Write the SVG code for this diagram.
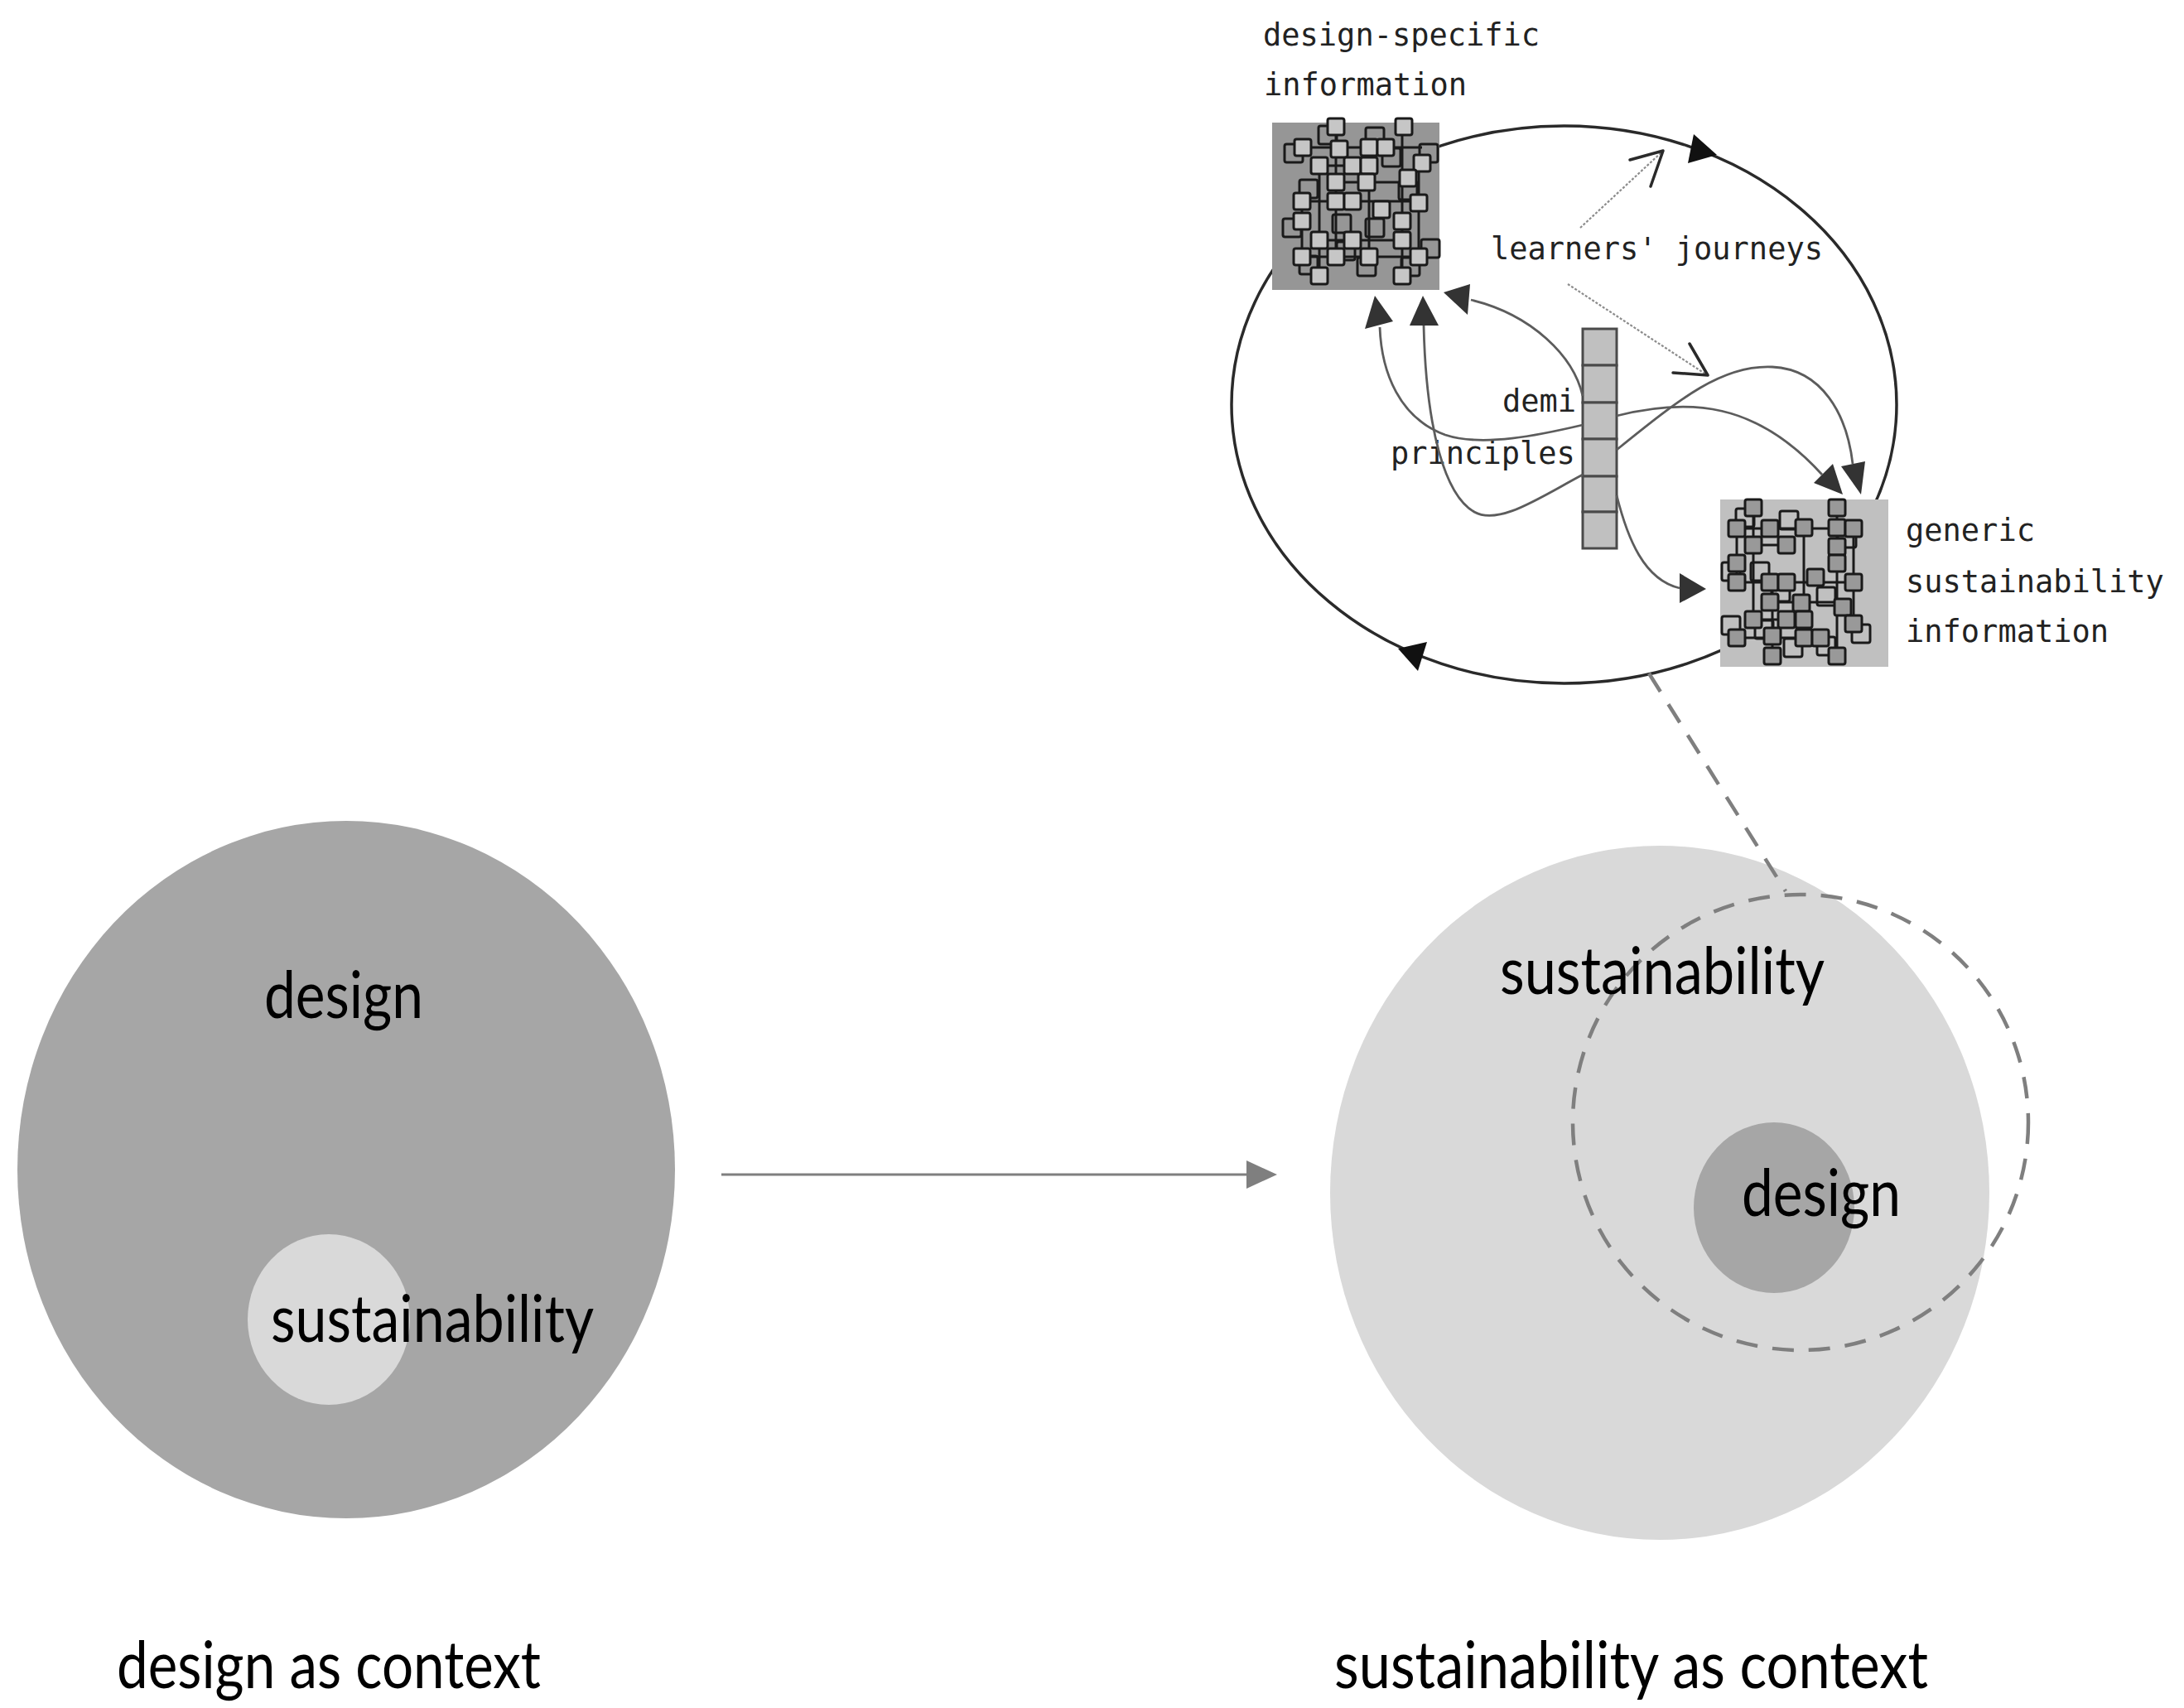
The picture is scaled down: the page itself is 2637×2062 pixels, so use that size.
<svg xmlns="http://www.w3.org/2000/svg" xmlns:xlink="http://www.w3.org/1999/xlink" width="2637" height="2062" viewBox="0 0 2637 2062">
<style>
.lbl{font-family:Lato,'Open Sans','Noto Sans',sans-serif;font-size:80px;fill:#000}
.mono{font-family:'DejaVu Sans Mono','Liberation Mono',monospace;font-size:37px;fill:#222}
.cur{fill:none;stroke:#5c5c5c;stroke-width:2.8}
.ah{fill:#333}
.ahb{fill:#111}
.lj{fill:none;stroke:#8c8c8c;stroke-width:2.2;stroke-dasharray:3 2}
.lja{fill:none;stroke:#2a2a2a;stroke-width:3.5;stroke-linecap:round;stroke-linejoin:round}
.net{stroke:#1a1a1a;stroke-width:3;fill:none}
.op{fill:none;stroke:#1a1a1a;stroke-width:3}
.cell{fill:#c0c0c0;stroke:#4a4a4a;stroke-width:3}
.dash{fill:none;stroke:#7f7f7f;stroke-width:4.5;stroke-dasharray:26 18}
</style>
<defs>
<rect id="sqA" x="-10" y="-10" width="20" height="20" rx="2.5" fill="#c6c6c6" stroke="#1a1a1a" stroke-width="3"/>
<rect id="sqB" x="-10" y="-10" width="20" height="20" rx="2.5" fill="#999" stroke="#1a1a1a" stroke-width="3"/>
<rect id="opn" x="-11" y="-11" width="22" height="22" rx="2.5" class="op"/>
</defs>
<rect width="2637" height="2062" fill="#fff"/>

<!-- bottom left: design as context -->
<g id="design-context">
<ellipse cx="418" cy="1412" rx="397" ry="421" fill="#a6a6a6"/>
<ellipse cx="397" cy="1593" rx="98" ry="103" fill="#d9d9d9"/>
<text class="lbl" x="319" y="1229" textLength="192" lengthAdjust="spacingAndGlyphs">design</text>
<text class="lbl" x="327" y="1620" textLength="390" lengthAdjust="spacingAndGlyphs">sustainability</text>
<text class="lbl" x="141" y="2038" textLength="512" lengthAdjust="spacingAndGlyphs">design as context</text>
</g>

<!-- bottom right: sustainability as context -->
<g id="sustainability-context">
<ellipse cx="2004" cy="1440" rx="398" ry="419" fill="#d9d9d9"/>
<ellipse cx="2142" cy="1458" rx="97" ry="103" fill="#a6a6a6"/>
<circle id="zoom-circle" cx="2174" cy="1355" r="275" class="dash"/>
<text class="lbl" x="1811" y="1200" textLength="392" lengthAdjust="spacingAndGlyphs">sustainability</text>
<text class="lbl" x="2103" y="1468" textLength="192" lengthAdjust="spacingAndGlyphs">design</text>
<text class="lbl" x="1611" y="2038" textLength="717" lengthAdjust="spacingAndGlyphs">sustainability as context</text>
</g>

<!-- top: learning cycle -->
<g id="cycle">
<ellipse cx="1888.5" cy="488.5" rx="401.5" ry="336.5" fill="none" stroke="#2a2a2a" stroke-width="3.5"/>
<polygon class="ahb" points="2045,162 2038,197 2073,187"/>
<polygon class="ahb" points="1688,783 1723,775 1712,810"/>
</g>

<g id="design-specific-information">
<rect x="1536" y="148" width="202" height="202" fill="#969696"/>
<g class="net">
<path d="M1593,200V333M1693,153V333M1613,153V310M1653,178V310M1572,243V310M1713,197V310"/>
<path d="M1572,243H1713M1572,310H1713M1573,178H1717M1593,290H1693M1593,200H1653M1613,220H1700"/>
</g>
<g>
<use href="#opn" x="1603" y="163"/><use href="#opn" x="1660" y="165"/><use href="#opn" x="1562" y="185"/><use href="#opn" x="1725" y="185"/>
<use href="#opn" x="1580" y="228"/><use href="#opn" x="1700" y="230"/><use href="#opn" x="1560" y="275"/><use href="#opn" x="1620" y="270"/>
<use href="#opn" x="1660" y="275"/><use href="#opn" x="1580" y="320"/><use href="#opn" x="1650" y="322"/><use href="#opn" x="1703" y="322"/>
<use href="#opn" x="1727" y="300"/><use href="#opn" x="1625" y="303"/><use href="#opn" x="1680" y="190"/>
</g>
<g>
<use href="#sqA" x="1613" y="153"/><use href="#sqA" x="1695" y="153"/>
<use href="#sqA" x="1573" y="178"/><use href="#sqA" x="1617" y="180"/><use href="#sqA" x="1653" y="178"/><use href="#sqA" x="1673" y="178"/><use href="#sqA" x="1717" y="197"/>
<use href="#sqA" x="1593" y="200"/><use href="#sqA" x="1633" y="200"/><use href="#sqA" x="1653" y="200"/>
<use href="#sqA" x="1613" y="220"/><use href="#sqA" x="1650" y="220"/><use href="#sqA" x="1700" y="215"/>
<use href="#sqA" x="1572" y="243"/><use href="#sqA" x="1613" y="243"/><use href="#sqA" x="1633" y="243"/><use href="#sqA" x="1668" y="253"/><use href="#sqA" x="1713" y="245"/>
<use href="#sqA" x="1572" y="267"/><use href="#sqA" x="1693" y="267"/>
<use href="#sqA" x="1593" y="290"/><use href="#sqA" x="1633" y="290"/><use href="#sqA" x="1693" y="290"/>
<use href="#sqA" x="1572" y="310"/><use href="#sqA" x="1613" y="310"/><use href="#sqA" x="1653" y="310"/><use href="#sqA" x="1713" y="310"/>
<use href="#sqA" x="1593" y="333"/><use href="#sqA" x="1693" y="333"/>
</g>
<text class="mono" x="1525" y="55">design-specific</text>
<text class="mono" x="1526" y="115">information</text>
</g>

<g id="generic-sustainability-information">
<rect x="2077" y="603" width="203" height="202" fill="#c0c0c0"/>
<g class="net">
<path d="M2117,613V748M2218,613V792M2140,703V792M2178,637V770M2097,638V703M2238,638V753"/>
<path d="M2097,638H2238M2097,703H2238M2097,770H2198M2117,658H2157M2137,727H2225M2117,748H2178"/>
</g>
<g>
<use href="#opn" x="2107" y="625"/><use href="#opn" x="2160" y="628"/><use href="#opn" x="2230" y="650"/><use href="#opn" x="2090" y="690"/>
<use href="#opn" x="2125" y="690"/><use href="#opn" x="2150" y="715"/><use href="#opn" x="2205" y="720"/><use href="#opn" x="2090" y="755"/>
<use href="#opn" x="2130" y="760"/><use href="#opn" x="2165" y="782"/><use href="#opn" x="2205" y="780"/><use href="#opn" x="2247" y="765"/>
</g>
<g>
<use href="#sqB" x="2117" y="613"/><use href="#sqB" x="2218" y="613"/>
<use href="#sqB" x="2097" y="638"/><use href="#sqB" x="2137" y="638"/><use href="#sqB" x="2178" y="637"/><use href="#sqB" x="2218" y="637"/><use href="#sqB" x="2238" y="638"/>
<use href="#sqB" x="2117" y="658"/><use href="#sqB" x="2157" y="658"/><use href="#sqB" x="2218" y="660"/>
<use href="#sqB" x="2097" y="680"/><use href="#sqB" x="2218" y="680"/>
<use href="#sqB" x="2097" y="703"/><use href="#sqB" x="2137" y="703"/><use href="#sqB" x="2157" y="703"/><use href="#sqB" x="2192" y="697"/><use href="#sqB" x="2238" y="703"/>
<use href="#sqB" x="2137" y="727"/><use href="#sqB" x="2175" y="728"/><use href="#sqB" x="2225" y="733"/>
<use href="#sqB" x="2117" y="748"/><use href="#sqB" x="2157" y="748"/><use href="#sqB" x="2178" y="748"/><use href="#sqB" x="2238" y="753"/>
<use href="#sqB" x="2097" y="770"/><use href="#sqB" x="2140" y="768"/><use href="#sqB" x="2178" y="770"/><use href="#sqB" x="2198" y="770"/>
<use href="#sqB" x="2140" y="792"/><use href="#sqB" x="2218" y="792"/>
</g>
<text class="mono" x="2301" y="653">generic</text>
<text class="mono" x="2301" y="715">sustainability</text>
<text class="mono" x="2301" y="775">information</text>
</g>

<g id="demi-principles">
<rect class="cell" x="1911" y="397" width="41" height="44"/>
<rect class="cell" x="1911" y="441" width="41" height="45"/>
<rect class="cell" x="1911" y="486" width="41" height="44"/>
<rect class="cell" x="1911" y="530" width="41" height="45"/>
<rect class="cell" x="1911" y="575" width="41" height="43"/>
<rect class="cell" x="1911" y="618" width="41" height="44"/>
<text class="mono" x="1814" y="497">demi</text>
<text class="mono" x="1679" y="560">principles</text>
</g>

<g id="learners-journeys">
<text class="mono" x="1800" y="313">learners' journeys</text>
</g>

<g id="connectors">
<!-- demi principles arrows -->
<path class="cur" d="M1911,478 C1900,430 1850,380 1776,362"/>
<polygon class="ah" points="1743,353 1775,343 1772,380"/>
<path class="cur" d="M1911,513 C1860,525 1790,540 1745,525 C1690,505 1668,450 1666,395"/>
<polygon class="ah" points="1648,397 1682,388 1660,357"/>
<path class="cur" d="M1911,573 C1860,600 1810,635 1780,618 C1745,598 1722,520 1719,393"/>
<polygon class="ah" points="1702,393 1737,393 1718,357"/>
<path class="cur" d="M1952,502 C2040,480 2120,485 2200,573"/>
<polygon class="ah" points="2190,583 2213,560 2225,597"/>
<path class="cur" d="M1952,543 C2030,480 2080,440 2140,443 C2200,446 2230,500 2237,560"/>
<polygon class="ah" points="2223,563 2252,557 2247,597"/>
<path class="cur" d="M1952,598 C1965,650 1985,700 2028,710"/>
<polygon class="ah" points="2028,692 2060,711 2028,728"/>
<!-- learners' journeys arrows -->
<path class="lj" d="M1908,275 L2006,184"/>
<path class="lja" d="M1968,193 L2008,182 L1993,225"/>
<path class="lj" d="M1893,343 L2060,452"/>
<path class="lja" d="M2040,415 L2062,453 L2020,450"/>
<!-- zoom link -->
<path class="dash" d="M1991,813 L2156,1076"/>
<!-- transition arrow -->
<line x1="871" y1="1418" x2="1510" y2="1418" stroke="#7f7f7f" stroke-width="3"/>
<polygon points="1505,1401 1542,1418 1505,1435" fill="#7f7f7f"/>
</g>
</svg>
